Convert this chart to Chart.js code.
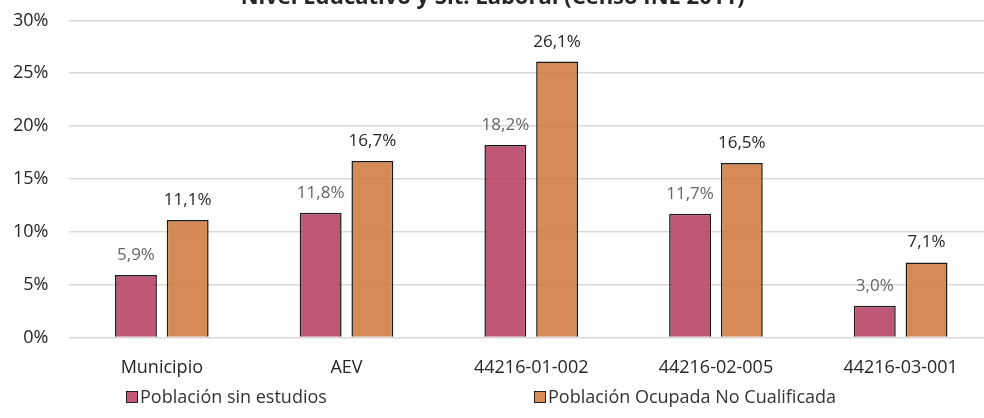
<!DOCTYPE html>
<html>
<head>
<meta charset="utf-8">
<script src="https://cdn.jsdelivr.net/npm/chart.js"></script>
<style>
  html, body { margin: 0; padding: 0; background: #fff; overflow: hidden; width: 984px; height: 418px; }
  #wrap { position: absolute; left: 0; top: -20px; width: 1000px; height: 438px; }
  .legend { position: absolute; top: 384px; font: 18px "Open Sans", sans-serif; color: #333; white-space: nowrap; }
  .legend i { display: inline-block; width: 10px; height: 10px; border: 1.5px solid #222; margin-right: 2px; vertical-align: 0px; }
</style>
</head>
<body>
<div id="wrap"><canvas id="chart" width="1000" height="438"></canvas></div>
<div class="legend" style="left:126px"><i style="background:#c25a76"></i>Población sin estudios</div>
<div class="legend" style="left:534px"><i style="background:#d78c58"></i>Población Ocupada No Cualificada</div>
<script>
// Nivel educativo y situación laboral - Censo INE 2011
const categories = ['Municipio', 'AEV', '44216-01-002', '44216-02-005', '44216-03-001'];
const sinEstudios = [5.9, 11.8, 18.2, 11.7, 3.0];
const ocupadaNoCualificada = [11.1, 16.7, 26.1, 16.5, 7.1];
const yTicks = [0, 5, 10, 15, 20, 25, 30];

const FONT = '"Open Sans", sans-serif';

// values written above every bar, comma decimal
const valueLabels = {
    id: 'valueLabels',
    afterDatasetsDraw(chart) {
        const ctx = chart.ctx;
        ctx.save();
        ctx.font = '17px ' + FONT;
        ctx.textAlign = 'center';
        ctx.textBaseline = 'alphabetic';
        chart.data.datasets.forEach((ds, i) => {
            ctx.fillStyle = i === 0 ? '#666666' : '#262626';
            chart.getDatasetMeta(i).data.forEach((bar, j) => {
                const txt = ds.data[j].toFixed(1).replace('.', ',') + '%';
                ctx.fillText(txt, bar.x, bar.y - 15);
            });
        });
        ctx.restore();
    }
};

new Chart(document.getElementById('chart'), {
    type: 'bar',
    data: {
        labels: categories,
        datasets: [
            {
                label: 'Población sin estudios',
                data: sinEstudios,
                backgroundColor: 'rgba(180,58,94,0.85)',
                borderColor: '#1a1a1a',
                borderWidth: 1.5,
                categoryPercentage: 0.56,
                barPercentage: 0.81
            },
            {
                label: 'Población Ocupada No Cualificada',
                data: ocupadaNoCualificada,
                backgroundColor: 'rgba(208,122,62,0.87)',
                borderColor: '#1a1a1a',
                borderWidth: 1.5,
                categoryPercentage: 0.56,
                barPercentage: 0.81
            }
        ]
    },
    options: {
        responsive: false,
        animation: false,
        devicePixelRatio: 1,
        layout: { padding: { left: -8, right: 7, top: 0, bottom: 19 } },
        plugins: {
            legend: { display: false },
            tooltip: { enabled: false },
            title: {
                display: true,
                text: 'Nivel Educativo y Sit. Laboral (Censo INE 2011)',
                color: '#262626',
                font: { family: FONT, size: 22, weight: 'bold' },
                padding: { top: 5, bottom: 9 }
            }
        },
        scales: {
            x: {
                grid: { display: false, drawTicks: false },
                border: { display: false },
                ticks: { color: '#262626', font: { family: FONT, size: 18 }, padding: 20 }
            },
            y: {
                min: 0,
                max: 30,
                afterBuildTicks: axis => { axis.ticks = yTicks.map(v => ({ value: v })); },
                grid: { color: '#d9d9d9', lineWidth: 1.5, drawTicks: false },
                border: { display: false },
                ticks: {
                    color: '#262626',
                    font: { family: FONT, size: 18 },
                    padding: 21,
                    callback: v => v + '%'
                }
            }
        }
    },
    plugins: [valueLabels]
});
</script>
</body>
</html>
